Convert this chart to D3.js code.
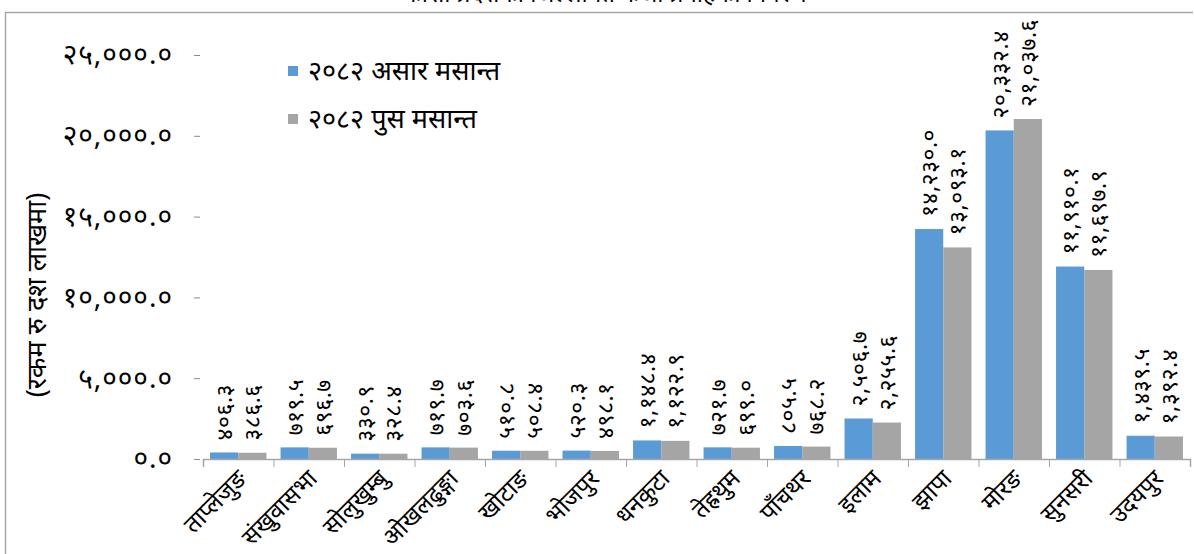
<!DOCTYPE html>
<html>
<head>
<meta charset="utf-8">
<script src="https://cdn.jsdelivr.net/npm/d3@7"></script>
<style>
  body { margin: 0; background: #fff; }
  text { font-family: "Noto Sans", sans-serif; fill: #000; }
</style>
</head>
<body>
<div id="chart"></div>
<script>
// district names (x categories)
var districts = ['ताप्लेजुङ', 'संखुवासभा', 'सोलुखुम्बु', 'ओखलढुङ्गा', 'खोटाङ', 'भोजपुर', 'धनकुटा',
                 'तेह्रथुम', 'पाँचथर', 'इलाम', 'झापा', 'मोरङ', 'सुनसरी', 'उदयपुर'];

// series values (रकम रु दश लाखमा)
var asar = [406.3, 719.5, 330.9, 719.7, 510.8, 520.3, 1148.4, 721.7, 805.5, 2506.7, 14230.0, 20332.4, 11910.1, 1439.5];
var pus = [386.6, 696.7, 328.4, 703.6, 508.4, 498.1, 1122.9, 699.0, 768.2, 2255.6, 13093.1, 21037.6, 11697.9, 1392.4];

var seriesNames = ['२०८२ असार मसान्त', '२०८२ पुस मसान्त'];
var yTicks = [0, 5000, 10000, 15000, 20000, 25000];

var titleText = 'कोशी प्रदेशका जिल्लागत कर्जा प्रवाहको विवरण';
var yTitle = '(रकम रु दश लाखमा)';

var blue = '#5B9BD5',
    gray = '#A5A5A5';

var pic_width = 1194,
    pic_height = 554;

var plotTop = 55,
    plotBottom = 459;

// western digits -> devanagari digits
var devDigits = '०१२३४५६७८९';
function toDev(s) {
    return s.replace(/[0-9]/g, function(c) { return devDigits[+c]; });
}
var fmt = d3.format(',.1f');

var svg = d3.select('#chart').append('svg')
    .attr('width', pic_width)
    .attr('height', pic_height)
    .style('background', '#fff');

// outer frame (only top and left edges visible)
svg.append('path')
    .attr('d', 'M5.5,' + pic_height + 'V12.5H1193')
    .attr('fill', 'none')
    .attr('stroke', '#a6a6a6')
    .attr('stroke-width', 1.5);

// title, mostly cut off at the top like in the source
svg.append('text')
    .attr('x', 605)
    .attr('y', 2)
    .attr('text-anchor', 'middle')
    .style('font-size', '24px')
    .text(titleText);

var yScale = d3.scaleLinear().domain([0, 25000]).range([plotBottom, plotTop]);

var xScale = d3.scaleBand()
    .domain(districts)
    .range([203, 1190])
    .paddingInner(0)
    .paddingOuter(0);

var xSub = d3.scaleBand()
    .domain([0, 1])
    .range([xScale.bandwidth() * 0.1, xScale.bandwidth() * 0.9]);

// y axis: ticks only, no line
var yAxis = d3.axisLeft(yScale).tickValues(yTicks).tickSize(6).tickPadding(21)
    .tickFormat(function(d) { return toDev(fmt(d)); });

var gy = svg.append('g')
    .attr('transform', 'translate(200,0)')
    .call(yAxis);
gy.select('.domain').remove();
gy.selectAll('line').attr('stroke', '#8c8c8c');
gy.selectAll('text')
    .style('font-size', '28px')
    .style('font-family', '"Noto Sans", sans-serif')
    .style('letter-spacing', '1px')
    .attr('fill', '#000');

svg.append('text')
    .attr('transform', 'translate(37,295) rotate(-90)')
    .attr('text-anchor', 'middle')
    .attr('dy', '0.35em')
    .style('font-size', '27px')
    .text(yTitle);

// bars
var groups = svg.append('g').selectAll('g')
    .data(districts)
    .enter().append('g')
    .attr('transform', function(d) { return 'translate(' + xScale(d) + ',0)'; });

var series = [asar, pus];
var colors = [blue, gray];

series.forEach(function(vals, s) {
    groups.append('rect')
        .attr('x', xSub(s))
        .attr('width', xSub.bandwidth())
        .attr('y', function(d, i) { return yScale(vals[i]); })
        .attr('height', function(d, i) { return plotBottom - yScale(vals[i]); })
        .attr('fill', colors[s]);

    groups.append('text')
        .attr('transform', function(d, i) {
            return 'translate(' + (xSub(s) + xSub.bandwidth() / 2) + ',' + (yScale(vals[i]) - 12) + ') rotate(-90)';
        })
        .attr('dy', '0.35em')
        .style('font-size', '23px')
        .style('letter-spacing', '0.5px')
        .text(function(d, i) { return toDev(fmt(vals[i])); });
});

// x axis with ticks on category boundaries
var xEdge = d3.scaleLinear().domain([0, districts.length]).range(xScale.range());
var gx = svg.append('g')
    .attr('transform', 'translate(0,' + plotBottom + ')')
    .call(d3.axisBottom(xEdge).tickValues(d3.range(districts.length + 1)).tickSize(8).tickFormat(''));
gx.select('.domain').attr('stroke', '#a6a6a6').attr('stroke-width', 1.5);
gx.selectAll('line').attr('stroke', '#a6a6a6');

svg.append('g').selectAll('text')
    .data(districts)
    .enter().append('text')
    .attr('transform', function(d) {
        return 'translate(' + (xScale(d) + xScale.bandwidth() / 2 + 10) + ',480) rotate(-45)';
    })
    .attr('text-anchor', 'end')
    .style('font-size', '24px')
    .text(function(d) { return d; });

// legend
var legend = svg.append('g').selectAll('g')
    .data(seriesNames)
    .enter().append('g')
    .attr('transform', function(d, i) { return 'translate(288,' + (71 + i * 48) + ')'; });
legend.append('rect')
    .attr('x', 0).attr('y', -5)
    .attr('width', 10).attr('height', 10)
    .attr('fill', function(d, i) { return colors[i]; });
legend.append('text')
    .attr('x', 20)
    .attr('dy', '0.35em')
    .style('font-size', '27px')
    .text(function(d) { return d; });
</script>
</body>
</html>
